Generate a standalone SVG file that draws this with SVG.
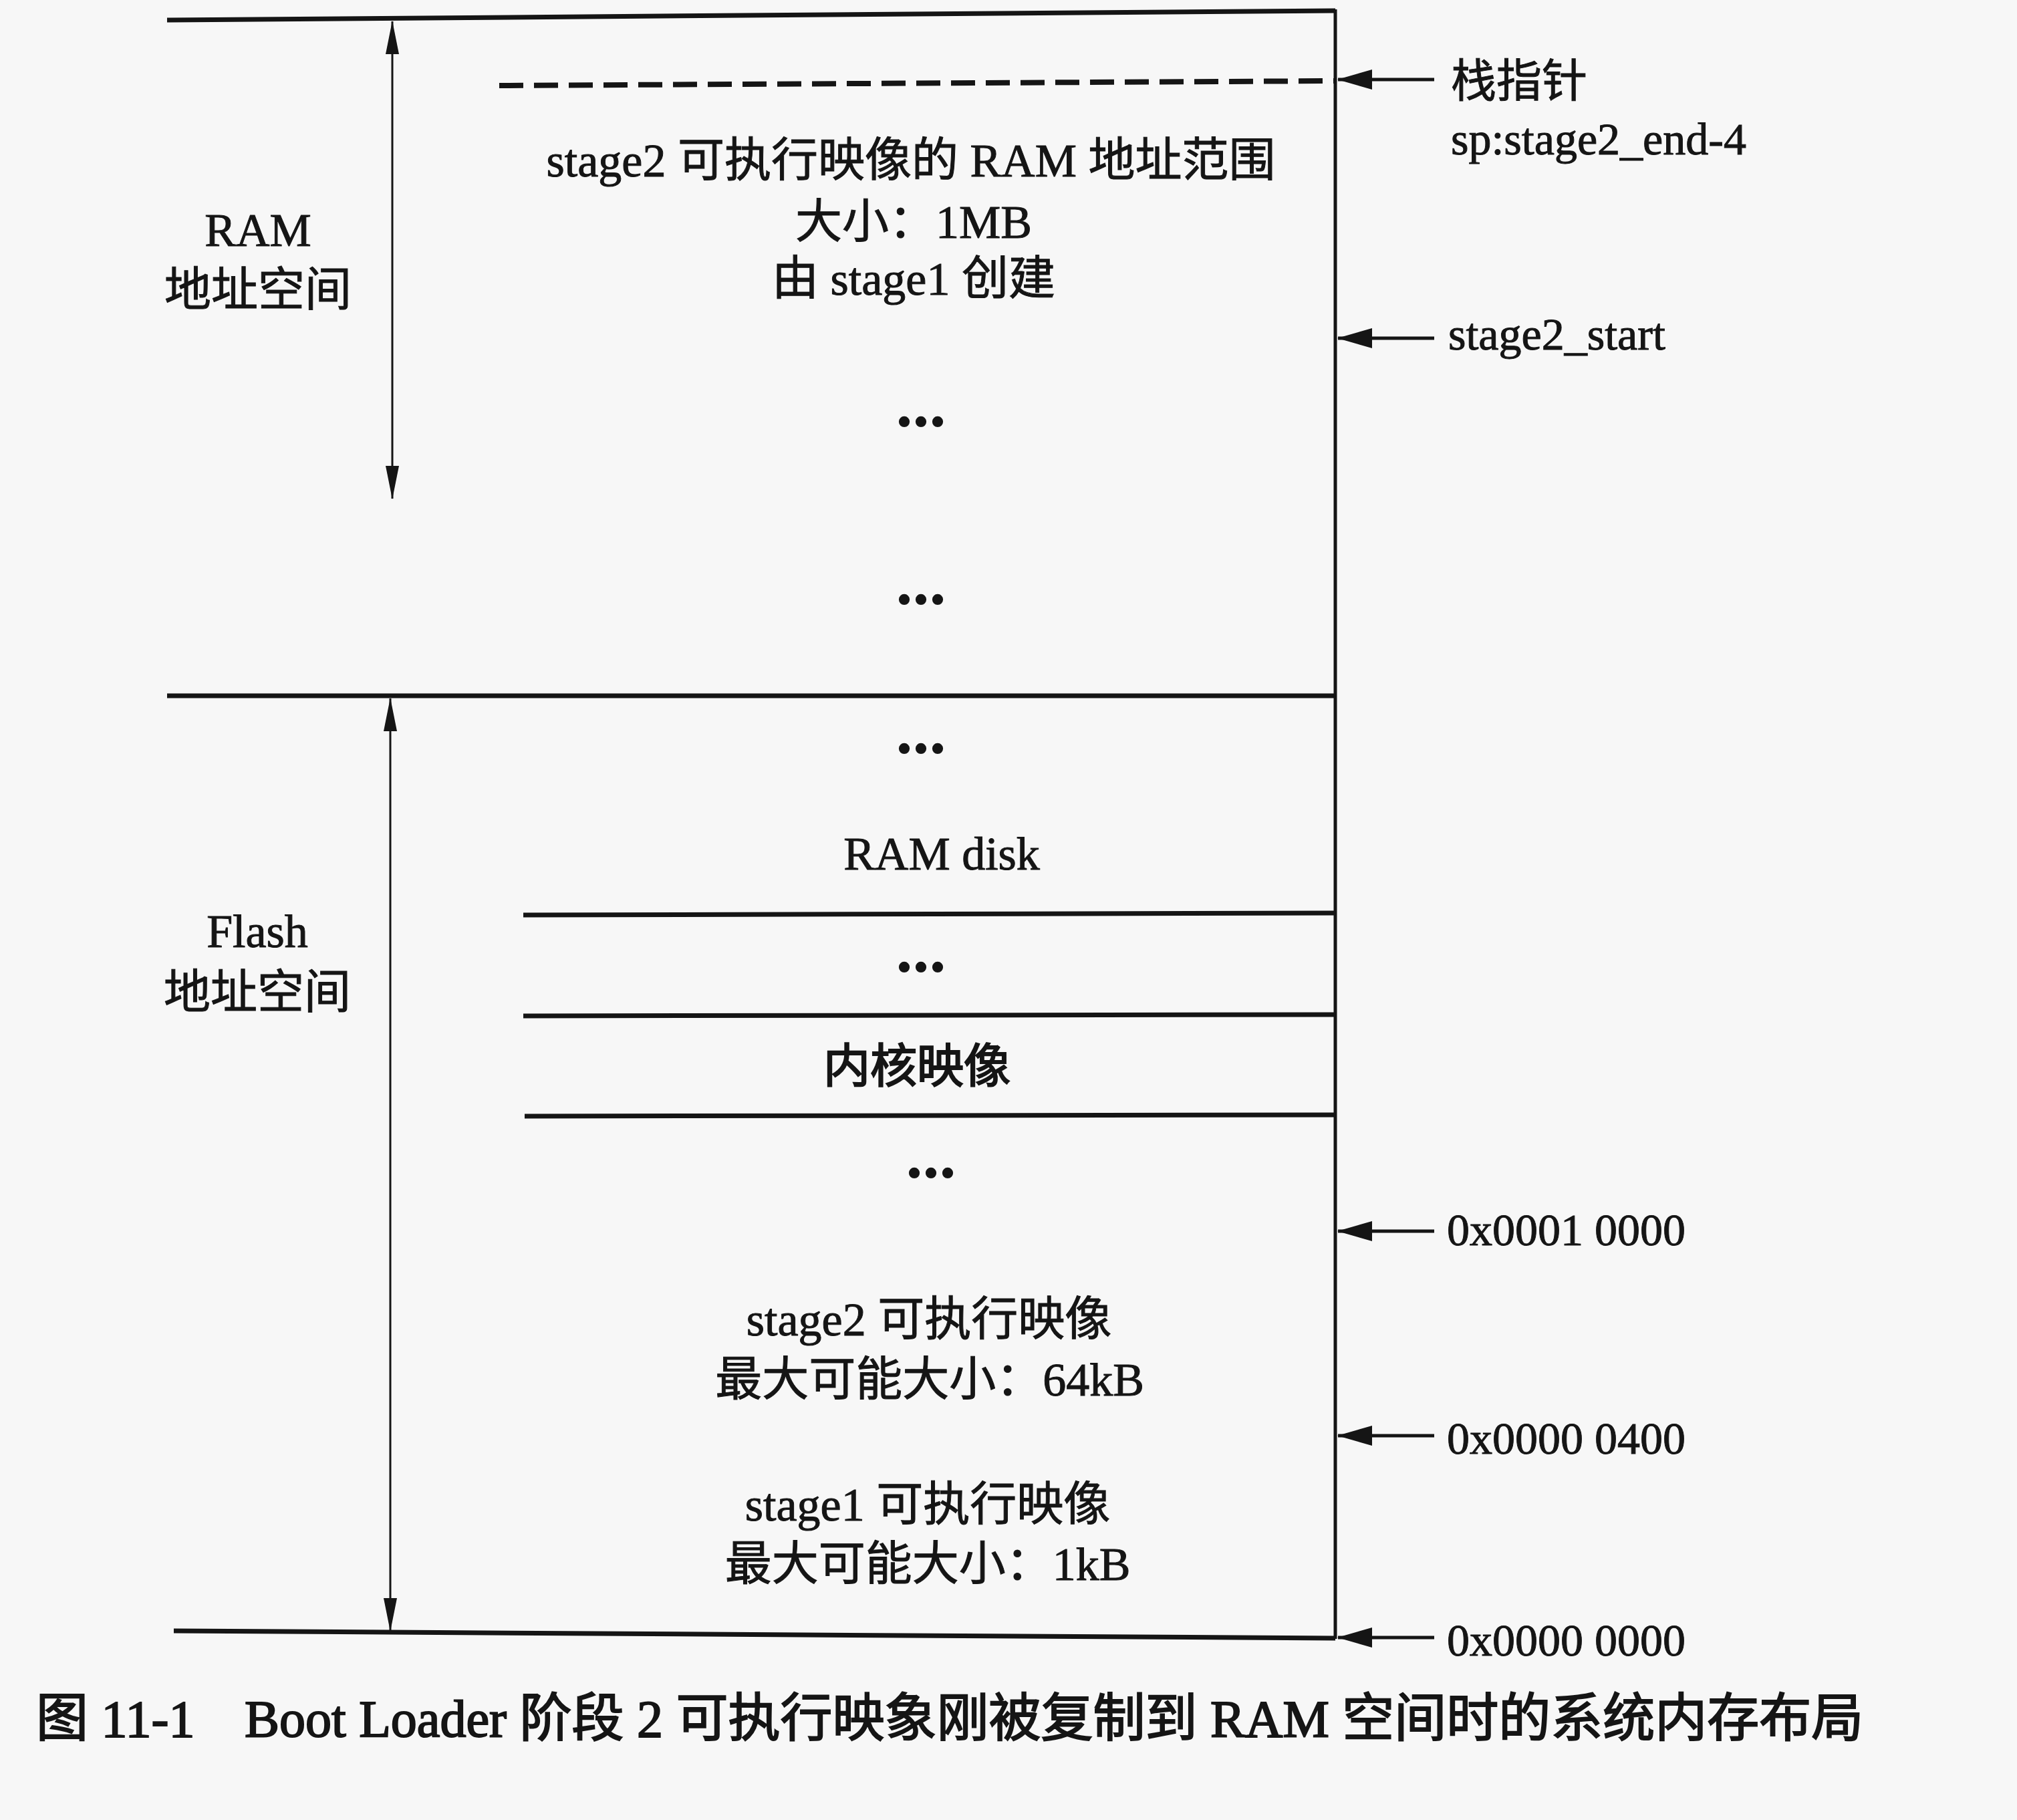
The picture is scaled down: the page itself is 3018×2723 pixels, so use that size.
<svg xmlns="http://www.w3.org/2000/svg" width="3018" height="2723" viewBox="0 0 3018 2723">
  <style>
    .t { font-family: "Liberation Serif", "Noto Sans CJK SC", serif; font-size: 70px; fill: #151515; stroke: #151515; stroke-width: 1; }
    .r { font-size: 68px; }
    .c { text-anchor: middle; }
    .b { stroke-width: 2.2; }
    .dots { font-family: "Liberation Serif", serif; font-size: 100px; font-weight: bold; fill: #151515; text-anchor: middle; }
    .cap { font-family: "Liberation Serif", "Noto Sans CJK SC", serif; font-size: 78px; fill: #151515; stroke: #151515; stroke-width: 2; }
    .thick { stroke: #151515; stroke-width: 7; fill: none; }
    .mid { stroke: #151515; stroke-width: 5; fill: none; }
    .thin { stroke: #151515; stroke-width: 3; fill: none; }
  </style>
  <defs>
    <marker id="ah" markerUnits="userSpaceOnUse" viewBox="0 0 52 30" markerWidth="52" markerHeight="30" refX="51" refY="15" orient="auto">
      <path d="M0,0 L52,15 L0,30 z" fill="#151515"/>
    </marker>
    <marker id="vh" markerUnits="userSpaceOnUse" viewBox="0 0 50 20" markerWidth="50" markerHeight="20" refX="49" refY="10" orient="auto-start-reverse">
      <path d="M0,0 L50,10 L0,20 z" fill="#151515"/>
    </marker>
  </defs>
  <rect width="3018" height="2723" fill="#f7f7f7"/>

  <g id="frame">
    <line class="thick" x1="250" y1="30" x2="1998" y2="16"/>
    <line class="mid" x1="1998" y1="14" x2="1998" y2="2452"/>
    <line class="thick" x1="250" y1="1041" x2="1998" y2="1041"/>
    <line class="thick" x1="260" y1="2440" x2="1998" y2="2451"/>
  </g>

  <g id="ram-region">
    <line x1="747" y1="128" x2="1996" y2="121" stroke="#151515" stroke-width="8" stroke-dasharray="36 16"/>
    <text class="t c" x="1363" y="264">stage2 可执行映像的 RAM 地址范围</text>
    <text class="t c" x="1367" y="356">大小：1MB</text>
    <text class="t c" x="1367" y="441">由 stage1 创建</text>
    <text class="dots" x="1378" y="638">...</text>
    <text class="dots" x="1378" y="904">...</text>
  </g>

  <g id="ram-label">
    <text class="t c" x="386" y="368">RAM</text>
    <text class="t c" x="386" y="458">地址空间</text>
  </g>

  <g id="flash-label">
    <text class="t c" x="385" y="1417">Flash</text>
    <text class="t c" x="385" y="1509">地址空间</text>
  </g>

  <g id="ramdisk">
    <text class="dots" x="1378" y="1127">...</text>
    <text class="t c" x="1409" y="1301">RAM disk</text>
    <line class="thick" x1="783" y1="1369" x2="1998" y2="1366"/>
  </g>

  <g id="gap1">
    <text class="dots" x="1378" y="1454">...</text>
    <line class="thick" x1="783" y1="1520" x2="1998" y2="1518"/>
  </g>

  <g id="kernel">
    <text class="t c b" x="1372" y="1620">内核映像</text>
    <line class="thick" x1="785" y1="1670" x2="1998" y2="1668"/>
  </g>

  <g id="gap2">
    <text class="dots" x="1393" y="1762">...</text>
  </g>

  <g id="stage2-image">
    <text class="t c" x="1390" y="1998">stage2 可执行映像</text>
    <text class="t c" x="1391" y="2088">最大可能大小：64kB</text>
  </g>

  <g id="stage1-image">
    <text class="t c" x="1388" y="2275">stage1 可执行映像</text>
    <text class="t c" x="1388" y="2364">最大可能大小：1kB</text>
  </g>

  <g id="right-labels">
    <text class="t r" x="2171" y="145">栈指针</text>
    <text class="t r" x="2171" y="231">sp:stage2_end-4</text>
    <text class="t r" x="2167" y="523">stage2_start</text>
    <text class="t r" x="2165" y="1863">0x0001 0000</text>
    <text class="t r" x="2165" y="2175">0x0000 0400</text>
    <text class="t r" x="2165" y="2477">0x0000 0000</text>
  </g>

  <g id="connectors">
    <line class="thin" x1="587" y1="32" x2="587" y2="746" marker-start="url(#vh)" marker-end="url(#vh)"/>
    <line class="thin" x1="584" y1="1045" x2="584" y2="2440" marker-start="url(#vh)" marker-end="url(#vh)"/>
    <line class="mid" x1="2146" y1="119" x2="2002" y2="119" marker-end="url(#ah)"/>
    <line class="mid" x1="2146" y1="506" x2="2002" y2="506" marker-end="url(#ah)"/>
    <line class="mid" x1="2146" y1="1842" x2="2002" y2="1842" marker-end="url(#ah)"/>
    <line class="mid" x1="2146" y1="2148" x2="2002" y2="2148" marker-end="url(#ah)"/>
    <line class="mid" x1="2146" y1="2450" x2="2002" y2="2450" marker-end="url(#ah)"/>
  </g>

  <g id="caption">
    <text class="cap" x="54" y="2598">图 11-1</text>
    <text class="cap" x="366" y="2598">Boot Loader 阶段 2 可执行映象刚被复制到 RAM 空间时的系统内存布局</text>
  </g>
</svg>
